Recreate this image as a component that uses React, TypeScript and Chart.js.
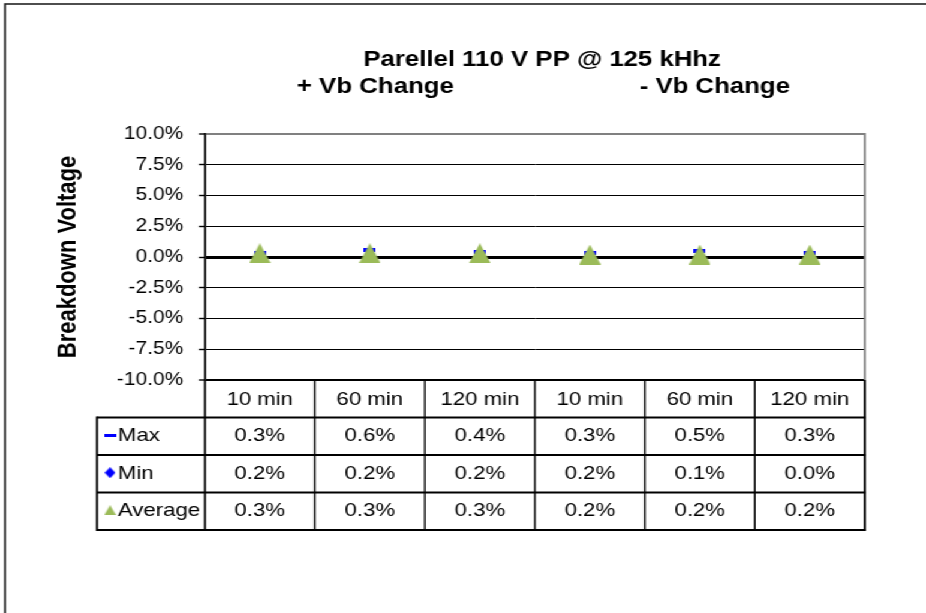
import React, { useEffect, useRef } from 'react';
import { Chart, registerables } from 'chart.js';

Chart.register(...registerables);

// ---------- data ----------
const categories = ['10 min', '60 min', '120 min', '10 min', '60 min', '120 min'];
const maxValues = [0.003, 0.006, 0.004, 0.003, 0.005, 0.003];
const minValues = [0.002, 0.002, 0.002, 0.002, 0.001, 0.0];
const avgValues = [0.003, 0.003, 0.003, 0.002, 0.002, 0.002];
const seriesNames = ['Max', 'Min', 'Average'];
const titleText = 'Parellel 110 V PP @ 125 kHhz';
const subtitleLeft = '+ Vb Change';
const subtitleRight = '- Vb Change';
const yAxisTitle = 'Breakdown Voltage';
const yMin = -0.1;
const yMax = 0.1;
const yStep = 0.025;

// ---------- geometry / style ----------
const SX = 1.2; // horizontal stretch of the reference rendering
const W = Math.round(926 / SX);
const H = 613;
const FONT = '"Liberation Sans", Arial, sans-serif';
const BLUE = '#0000FF';
const GREEN = '#9BBB59';

const fmtPct = (v: number) => (v * 100).toFixed(1) + '%';

function makeShape(kind: 'tri' | 'dia' | 'dash', w: number, h: number, color: string) {
  const c = document.createElement('canvas');
  c.width = w;
  c.height = h;
  const g = c.getContext('2d')!;
  g.fillStyle = color;
  g.beginPath();
  if (kind === 'tri') {
    g.moveTo(w / 2, 0);
    g.lineTo(w, h);
    g.lineTo(0, h);
  } else if (kind === 'dia') {
    g.moveTo(w / 2, 0);
    g.lineTo(w, h / 2);
    g.lineTo(w / 2, h);
    g.lineTo(0, h / 2);
  } else {
    g.rect(0, 0, w, h);
  }
  g.closePath();
  g.fill();
  return c;
}

export default function App() {
  const ref = useRef<HTMLCanvasElement | null>(null);

  useEffect(() => {
    const canvas = ref.current;
    if (!canvas) return;

    const triBig = makeShape('tri', 18, 20, GREEN);
    const diaBig = makeShape('dia', 9, 12, BLUE);
    const dashBig = makeShape('dash', 10, 4, BLUE);
    const triSmall = makeShape('tri', 10, 10, GREEN);
    const diaSmall = makeShape('dia', 9, 11, BLUE);
    const dashSmall = makeShape('dash', 10, 3, BLUE);

    const backgroundPlugin = {
      id: 'bgFrame',
      beforeDraw(chart: any) {
        const ctx = chart.ctx;
        ctx.save();
        ctx.fillStyle = '#ffffff';
        ctx.fillRect(0, 0, chart.width, chart.height);
        ctx.strokeStyle = '#222222';
        ctx.lineWidth = 1.6;
        ctx.strokeRect(4.2, 4, chart.width + 20, chart.height + 20);
        ctx.restore();
      },
    };

    const titlePlugin = {
      id: 'titles',
      afterDraw(chart: any) {
        const ctx = chart.ctx;
        ctx.save();
        ctx.fillStyle = '#000';
        ctx.font = `bold 21.5px ${FONT}`;
        ctx.textAlign = 'center';
        ctx.textBaseline = 'middle';
        ctx.fillText(titleText, 452, 60);
        ctx.fillText(subtitleLeft, 313, 87);
        ctx.fillText(subtitleRight, 596, 87);
        ctx.restore();
      },
    };

    const tablePlugin = {
      id: 'dataTable',
      afterDraw(chart: any) {
        const { ctx, chartArea } = chart;
        const xs = chart.scales.x;
        const n = categories.length;
        const colW = chartArea.width / n;
        const rowH = 37.5;
        const top = chartArea.bottom;
        const tableLeft = 80.8;
        const bottom = top + rowH * 4;
        ctx.save();

        // right border of the plot area (grey)
        ctx.strokeStyle = '#808080';
        ctx.lineWidth = 1.7;
        ctx.beginPath();
        ctx.moveTo(chartArea.right, chartArea.top - 1);
        ctx.lineTo(chartArea.right, top);
        ctx.stroke();

        ctx.strokeStyle = '#000';
        // horizontal rules of the table
        ctx.lineWidth = 2;
        for (let j = 1; j <= 4; j++) {
          const y = top + rowH * j;
          ctx.beginPath();
          ctx.moveTo(tableLeft, y);
          ctx.lineTo(chartArea.right + 0.8, y);
          ctx.stroke();
        }
        // vertical rules
        for (let k = 0; k <= n; k++) {
          const x = chartArea.left + k * colW;
          ctx.lineWidth = k === 0 || k === n ? 1.8 : 1.4;
          ctx.beginPath();
          ctx.moveTo(x, top);
          ctx.lineTo(x, bottom + 1);
          ctx.stroke();
        }
        ctx.lineWidth = 1.8;
        ctx.beginPath();
        ctx.moveTo(tableLeft, top + rowH - 1);
        ctx.lineTo(tableLeft, bottom + 1);
        ctx.stroke();

        // texts
        ctx.fillStyle = '#000';
        ctx.font = `18.5px ${FONT}`;
        ctx.textBaseline = 'middle';
        ctx.textAlign = 'center';
        categories.forEach((c, i) => {
          ctx.fillText(c, xs.getPixelForValue(i), top + rowH / 2 + 1);
        });
        const rows = [maxValues, minValues, avgValues];
        rows.forEach((vals, r) => {
          const yc = top + rowH * (r + 1) + rowH / 2;
          vals.forEach((v, i) => {
            ctx.fillText(fmtPct(v), xs.getPixelForValue(i), yc);
          });
        });
        // legend keys
        ctx.textAlign = 'left';
        const keys = [dashSmall, diaSmall, triSmall];
        seriesNames.forEach((name, r) => {
          const yc = top + rowH * (r + 1) + rowH / 2;
          const img = keys[r];
          ctx.drawImage(img, 91.7 - img.width / 2, yc - 1 - img.height / 2);
          ctx.fillText(name, 98.3, yc);
        });
        ctx.restore();
      },
    };

    const chart = new Chart(canvas, {
      type: 'line',
      data: {
        labels: categories,
        datasets: [
          {
            label: seriesNames[0],
            data: maxValues,
            showLine: false,
            pointStyle: dashBig as any,
            pointRadius: 6,
            backgroundColor: BLUE,
            borderColor: BLUE,
            order: 2,
          },
          {
            label: seriesNames[1],
            data: minValues,
            showLine: false,
            pointStyle: diaBig as any,
            pointRadius: 6,
            backgroundColor: BLUE,
            borderColor: BLUE,
            order: 1,
          },
          {
            label: seriesNames[2],
            data: avgValues,
            showLine: false,
            pointStyle: triBig as any,
            pointRadius: 10,
            backgroundColor: GREEN,
            borderColor: GREEN,
            order: 0,
          },
        ],
      },
      options: {
        responsive: false,
        maintainAspectRatio: false,
        animation: false,
        devicePixelRatio: 1,
        events: [],
        layout: { padding: { left: 0, top: 134, right: W - 721, bottom: H - 380 } },
        plugins: {
          legend: { display: false },
          tooltip: { enabled: false },
          title: { display: false },
        },
        scales: {
          x: {
            type: 'category',
            display: false,
            offset: true,
          },
          y: {
            type: 'linear',
            min: yMin,
            max: yMax,
            afterFit: (scale: any) => {
              scale.width = 170.8;
            },
            ticks: {
              stepSize: yStep,
              autoSkip: false,
              color: '#000',
              padding: 13,
              font: { family: FONT, size: 17.5 },
              callback: (v: any) => fmtPct(Number(v)),
            },
            grid: {
              drawTicks: true,
              tickLength: 5,
              tickColor: '#000',
              tickWidth: 1.4,
              color: (c: any) => (c.tick && c.tick.value > yMax - 1e-6 ? '#808080' : '#000'),
              lineWidth: (c: any) => {
                const v = c.tick ? c.tick.value : 1;
                if (Math.abs(v) < 1e-9) return 3;
                if (Math.abs(v - yMin) < 1e-6) return 2;
                if (Math.abs(v - yMax) < 1e-6) return 2;
                return 1;
              },
            },
            border: { display: true, color: '#000', width: 1.8 },
            title: {
              display: true,
              text: yAxisTitle,
              color: '#000',
              font: { family: FONT, size: 22, weight: 'bold' },
              padding: { top: 43.5, bottom: 0 },
            },
          },
        },
      },
      plugins: [backgroundPlugin, titlePlugin, tablePlugin],
    } as any);

    return () => chart.destroy();
  }, []);

  return (
    <div
      style={{
        position: 'fixed',
        left: 0,
        top: 0,
        width: W,
        height: H,
        transform: `scaleX(${926 / W})`,
        transformOrigin: '0 0',
        background: '#fff',
      }}
    >
      <canvas ref={ref} width={W} height={H} style={{ display: 'block', width: W, height: H }} />
    </div>
  );
}
